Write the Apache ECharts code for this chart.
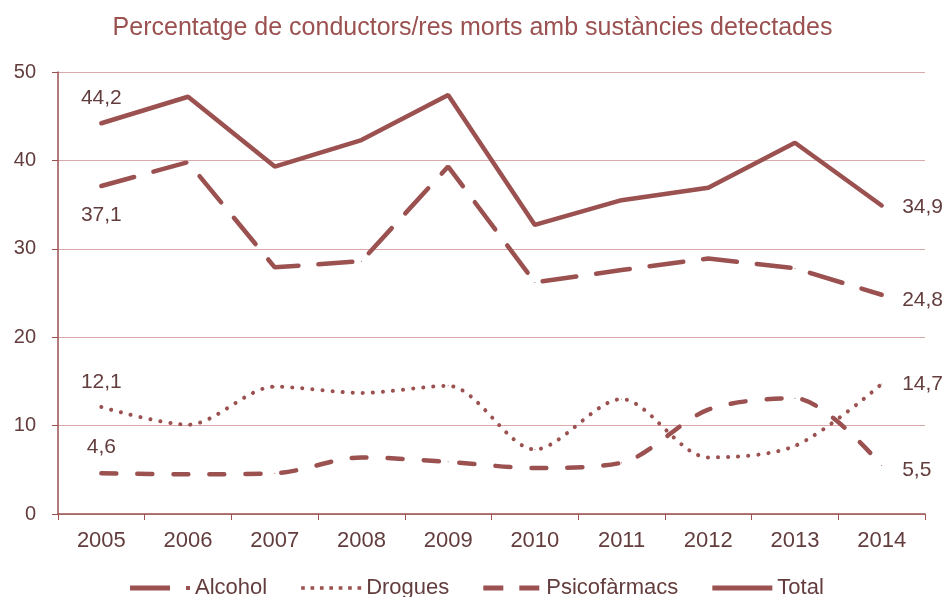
<!DOCTYPE html>
<html><head><meta charset="utf-8">
<script src="https://cdn.jsdelivr.net/npm/echarts@6/dist/echarts.min.js"></script>
<style>html,body{margin:0;padding:0;background:#fff}#c{width:945px;height:597px}</style>
</head><body><div id="c"></div>
<script>
var years = ['2005','2006','2007','2008','2009','2010','2011','2012','2013','2014'];
var alcohol = [37.1, 39.8, 27.9, 28.6, 39.3, 26.2, 27.6, 28.9, 27.8, 24.8];
var drogues = [12.1, 10.1, 14.4, 13.7, 14.5, 7.3, 13.0, 6.4, 7.7, 14.7];
var psico = [4.6, 4.5, 4.6, 6.4, 5.9, 5.2, 5.8, 11.8, 13.1, 5.5];
var total = [44.2, 47.2, 39.3, 42.3, 47.4, 32.7, 35.5, 36.9, 42.0, 34.9];
var yTicks = [0, 10, 20, 30, 40, 50];

var C = '#9a5150';
var TXT = '#633d3d';
var FONT = 'Liberation Sans';
function fmt(v){ return String(v).replace('.', ','); }
function withLabels(arr, firstPos, firstDist, lastOffY){
  return arr.map(function(v,i){
    if(i===0) return {value:v, label:{show:true, position:firstPos, distance:firstDist}};
    if(i===arr.length-1) return {value:v, label:{show:true, position:'right', distance:20, offset:[0,lastOffY]}};
    return v;
  });
}
var lbl = {show:false, color:TXT, fontSize:21, fontFamily:FONT, formatter:function(p){return fmt(p.value);}};
function dots(){ var s=''; for(var i=0;i<7;i++){ var x=i*9; s+='M'+x+',0.8H'+(x+3.5)+'V4.2H'+x+'Z'; } return 'path://'+s; }
var icons = {
  'Alcohol':'path://M0,0H40V5H0ZM56,0.6H60V4.4H56Z',
  'Drogues':dots(),
  'Psicofàrmacs':'path://M0,0H20V5H0ZM36,0H56V5H36Z',
  'Total':'path://M0,0H60V5H0Z'
};
var chart = echarts.init(document.getElementById('c'));
chart.setOption({
  animation:false,
  title:{text:'Percentatge de conductors/res morts amb sustàncies detectades', left:'center', top:11,
    textStyle:{color:C, fontSize:25, fontWeight:'normal', fontFamily:FONT}},
  grid:{left:58, right:20, top:72, bottom:83},
  legend:{top:572, left:125, itemWidth:60, itemHeight:5, itemGap:34,
    itemStyle:{color:C}, 
    textStyle:{color:TXT, fontSize:22, fontFamily:FONT},
    data:['Alcohol','Drogues','Psicofàrmacs','Total'].map(function(n){return {name:n, icon:icons[n]};})},
  xAxis:{type:'category', data:years, boundaryGap:true,
    axisLine:{lineStyle:{color:C, width:1.5}},
    axisTick:{show:true, length:6, lineStyle:{color:C}},
    axisLabel:{color:TXT, fontSize:22, fontFamily:FONT, margin:16}},
  yAxis:{type:'value', min:yTicks[0], max:yTicks[yTicks.length-1], interval:10,
    axisLine:{show:true, lineStyle:{color:C, width:1.5}},
    axisTick:{show:true, length:6, lineStyle:{color:C}},
    splitLine:{lineStyle:{color:'#dba9a9', width:1.2}},
    axisLabel:{color:TXT, fontSize:20, fontFamily:FONT, margin:22}},
  series:[
    {name:'Alcohol', type:'line', symbol:'circle', symbolSize:1, data:withLabels(alcohol,'bottom',18,5),
      lineStyle:{color:C, width:4.5, type:[34,20], cap:'round'}, itemStyle:{color:C}, label:lbl},
    {name:'Drogues', type:'line', symbol:'circle', symbolSize:1, smooth:0.3, data:withLabels(drogues,'top',14,0),
      lineStyle:{color:C, width:4, type:[0.1,10], cap:'round'}, itemStyle:{color:C}, label:lbl},
    {name:'Psicofàrmacs', type:'line', symbol:'circle', symbolSize:1, smooth:0.3, data:withLabels(psico,'top',15,5),
      lineStyle:{color:C, width:4.5, type:[15,21], cap:'round'}, itemStyle:{color:C}, label:lbl},
    {name:'Total', type:'line', symbol:'circle', symbolSize:1, data:withLabels(total,'top',14,2),
      lineStyle:{color:C, width:4.5, cap:'round'}, itemStyle:{color:C}, label:lbl}
  ]
});
</script></body></html>
